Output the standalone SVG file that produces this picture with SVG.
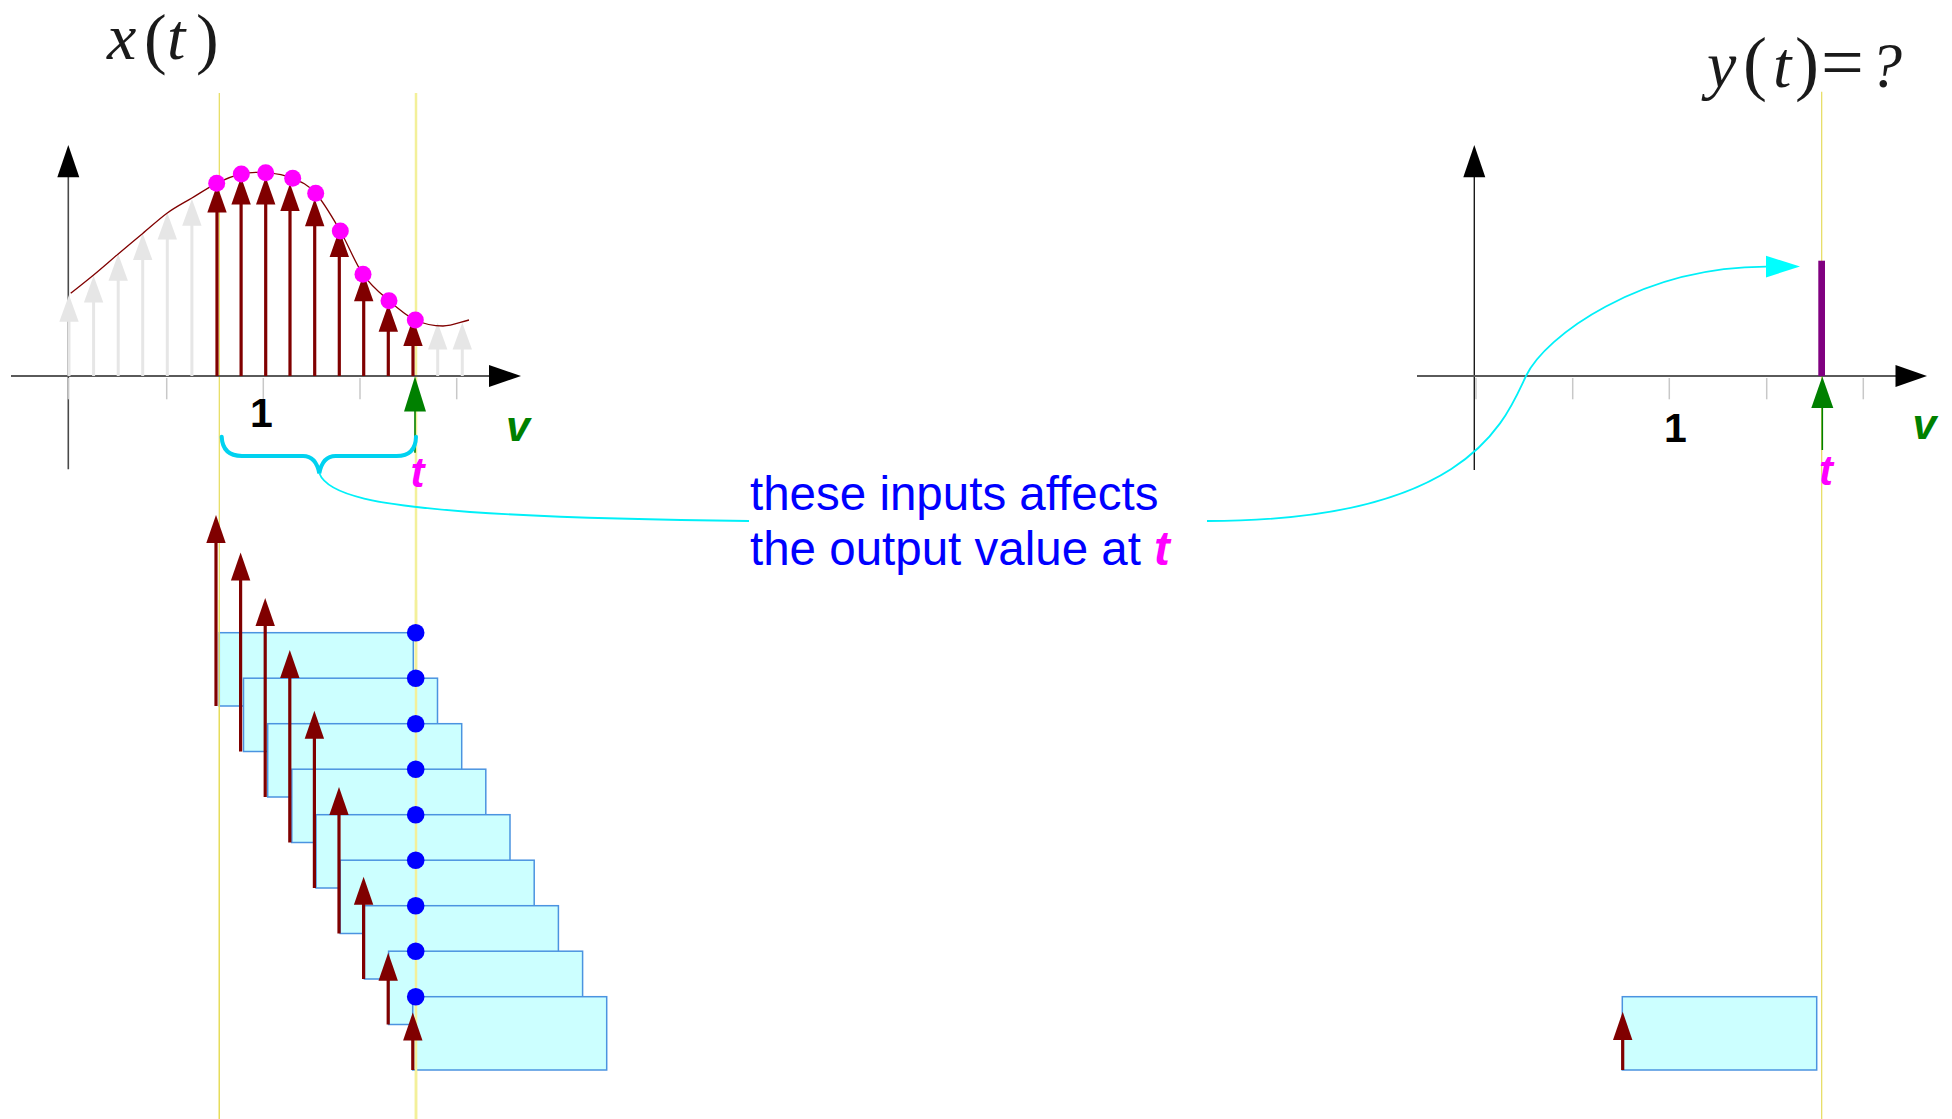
<svg xmlns="http://www.w3.org/2000/svg" width="1952" height="1119" viewBox="0 0 1952 1119">
<style>
.axis{stroke:#5a5a5a;stroke-width:2;fill:none}
.yaxis{stroke:#4a4a4a;stroke-width:1.6;fill:none}
.yaxis2{stroke:#1a1a1a;stroke-width:1.4;fill:none}
.tick{stroke:#c8c8c8;stroke-width:1.5}
.ahead{fill:#000}
.gray{stroke:#e6e6e6;stroke-width:3}
.grayh{fill:#e6e6e6}
.red{stroke:#800000;stroke-width:3.2}
.redh{fill:#800000}
.curve{stroke:#800000;stroke-width:1.3;fill:none}
.dot{fill:#ff00ff}
.bdot{fill:#0000ff}
.box{fill:#ccffff;stroke:#4b93e0;stroke-width:1.5}
.guide{stroke:#e6dc5a;stroke-width:1.2}
.guide2{stroke:#f3f09a;stroke-width:2.5}
.green{stroke:#008000;stroke-width:1.6}
.greenh{fill:#008000}
.math{font-family:"Liberation Serif","Times New Roman",serif;fill:#1a1a1a}
.mi{font-style:italic;font-size:66px}
.mp{font-size:72px}
.lbl{font-family:"Liberation Sans",Arial,sans-serif;font-weight:bold}
.one{font-size:41px;fill:#000;text-anchor:middle}
.vl{font-size:43px;font-style:italic;fill:#008000}
.tl{font-size:42px;font-style:italic;fill:#ff00ff}
.note{font-family:"Liberation Sans",Arial,sans-serif;font-size:47.5px;fill:#0000ff}
.brace{stroke:#00d2f0;stroke-width:4;fill:none;stroke-linecap:round}
.link{stroke:#00f0f8;stroke-width:1.8;fill:none}
.linkh{fill:#00ffff}
</style>

<g id="guides">
<line class="guide" x1="219.3" y1="93" x2="219.3" y2="1119"/>
<line class="guide2" x1="416" y1="93" x2="416" y2="1119"/>
<line class="guide" x1="1821.7" y1="91.7" x2="1821.7" y2="1119"/>
</g>

<g id="title-x">
<text class="math mi" x="107" y="59">x</text>
<text class="math" font-size="68" x="144" y="61">(</text>
<text class="math mi" x="167" y="59">t</text>
<text class="math" font-size="68" x="196" y="61">)</text>
</g>

<g id="title-y">
<text class="math mi" x="1707" y="86.7">y</text>
<text class="math mp" x="1743" y="87.3">(</text>
<text class="math mi" x="1773" y="86.7">t</text>
<text class="math mp" x="1795" y="87.3">)</text>
<text class="math" font-size="76" x="1821" y="87.5">=</text>
<text class="math" font-size="64" font-style="italic" x="1870" y="86.7">?</text>
</g>

<g id="input-plot">
<line class="yaxis" x1="68.3" y1="469.3" x2="68.3" y2="176"/>
<polygon class="ahead" points="68.3,145 57.3,177.3 79.3,177.3"/>
<line class="axis" x1="11" y1="376" x2="490" y2="376"/>
<polygon class="ahead" points="521,376 489,365 489,387"/>
<g class="tick">
<line x1="68.3" y1="378" x2="68.3" y2="399.3"/>
<line x1="166.7" y1="378" x2="166.7" y2="399.3"/>
<line x1="263.3" y1="378" x2="263.3" y2="399.3"/>
<line x1="360" y1="378" x2="360" y2="399.3"/>
<line x1="456.7" y1="378" x2="456.7" y2="399.3"/>
</g>
<g id="gray-samples">
<line class="gray" x1="69" y1="376" x2="69" y2="320"/><polygon class="grayh" points="69,295 59.3,321.7 78.7,321.7"/>
<line class="gray" x1="93.6" y1="376" x2="93.6" y2="301"/><polygon class="grayh" points="93.6,275.7 83.9,302.4 103.3,302.4"/>
<line class="gray" x1="118.2" y1="376" x2="118.2" y2="279"/><polygon class="grayh" points="118.2,254 108.5,280.7 127.9,280.7"/>
<line class="gray" x1="142.7" y1="376" x2="142.7" y2="258"/><polygon class="grayh" points="142.7,233.3 133,260 152.4,260"/>
<line class="gray" x1="167.3" y1="376" x2="167.3" y2="238"/><polygon class="grayh" points="167.3,212.7 157.6,239.4 177,239.4"/>
<line class="gray" x1="191.9" y1="376" x2="191.9" y2="224"/><polygon class="grayh" points="191.9,199 182.2,225.7 201.6,225.7"/>
<line class="gray" x1="437.7" y1="376" x2="437.7" y2="348"/><polygon class="grayh" points="437.7,322.7 428,349.4 447.4,349.4"/>
<line class="gray" x1="462.3" y1="376" x2="462.3" y2="348"/><polygon class="grayh" points="462.3,322.7 452.6,349.4 472,349.4"/>
</g>
<g id="red-samples">
<line class="red" x1="217" y1="376" x2="217" y2="211"/><polygon class="redh" points="217,185 207.3,212.5 226.7,212.5"/>
<line class="red" x1="241.1" y1="376" x2="241.1" y2="203"/><polygon class="redh" points="241.1,177 231.4,204.5 250.8,204.5"/>
<line class="red" x1="265.7" y1="376" x2="265.7" y2="203"/><polygon class="redh" points="265.7,177 256,204.5 275.4,204.5"/>
<line class="red" x1="290" y1="376" x2="290" y2="209"/><polygon class="redh" points="290,183.5 280.3,211 299.7,211"/>
<line class="red" x1="314.7" y1="376" x2="314.7" y2="224"/><polygon class="redh" points="314.7,198.7 305,226.2 324.4,226.2"/>
<line class="red" x1="339.3" y1="376" x2="339.3" y2="255"/><polygon class="redh" points="339.3,229.6 329.6,257.1 349,257.1"/>
<line class="red" x1="363.7" y1="376" x2="363.7" y2="299"/><polygon class="redh" points="363.7,273.7 354,301.2 373.4,301.2"/>
<line class="red" x1="388.3" y1="376" x2="388.3" y2="330"/><polygon class="redh" points="388.3,304.3 378.6,331.8 398,331.8"/>
<line class="red" x1="413" y1="376" x2="413" y2="344"/><polygon class="redh" points="413,318.4 403.3,345.9 422.7,345.9"/>
</g>
<path class="curve" d="M70.7,293.3 C78.33,287.2 85.68,281.55 93.6,275 C101.52,268.45 110.02,260.92 118.2,254 C126.38,247.08 134.52,240.33 142.7,233.5 C150.88,226.67 159.1,219 167.3,213 C175.5,207 183.67,202.95 191.9,198 C200.13,193.05 208.47,187.3 216.7,183.3 C224.93,179.3 233.13,175.77 241.3,174 C249.47,172.23 257.13,171.98 265.7,172.7 C274.27,173.42 284.37,174.87 292.7,178.3 C301.03,181.73 307.77,184.52 315.7,193.3 C323.63,202.08 332.42,217.5 340.3,231 C348.18,244.5 354.88,262.68 363,274.3 C371.12,285.92 380.28,293.08 389,300.7 C397.72,308.32 406.3,315.78 415.3,320 C424.3,324.22 434.05,326 443,326 C451.95,326 460.33,322 469,320"/>
<g id="sample-dots" class="dot">
<circle cx="216.7" cy="183.3" r="8.5"/>
<circle cx="241.3" cy="174" r="8.5"/>
<circle cx="265.7" cy="172.7" r="8.5"/>
<circle cx="292.7" cy="178.3" r="8.5"/>
<circle cx="315.7" cy="193.3" r="8.5"/>
<circle cx="340.3" cy="231" r="8.5"/>
<circle cx="363" cy="274.3" r="8.5"/>
<circle cx="389" cy="300.7" r="8.5"/>
<circle cx="415.3" cy="320" r="8.5"/>
</g>
<line class="green" x1="415" y1="409" x2="415" y2="452.7"/>
<polygon class="greenh" points="415,376.5 404,411.5 426,411.5"/>
<text class="lbl one" x="261.5" y="426.7">1</text>
<text class="lbl vl" x="506" y="440.7">v</text>
<text class="lbl tl" x="410.5" y="487.3">t</text>
</g>

<g id="output-plot">
<line class="yaxis2" x1="1474.3" y1="470" x2="1474.3" y2="176"/>
<polygon class="ahead" points="1474.3,145 1463.3,177.3 1485.3,177.3"/>
<line class="axis" x1="1417" y1="376" x2="1897" y2="376"/>
<polygon class="ahead" points="1927,376 1895.5,365 1895.5,387"/>
<g class="tick">
<line x1="1476" y1="378" x2="1476" y2="399.3"/>
<line x1="1572.7" y1="378" x2="1572.7" y2="399.3"/>
<line x1="1669.3" y1="378" x2="1669.3" y2="399.3"/>
<line x1="1766.7" y1="378" x2="1766.7" y2="399.3"/>
<line x1="1863.3" y1="378" x2="1863.3" y2="399.3"/>
</g>
<rect id="output-value" x="1818.3" y="260.7" width="6.7" height="115.3" fill="#800080"/>
<line class="green" x1="1822.3" y1="406" x2="1822.3" y2="450"/>
<polygon class="greenh" points="1822.3,376.5 1811.3,408 1833.3,408"/>
<text class="lbl one" x="1675.5" y="441.7">1</text>
<text class="lbl vl" x="1912.5" y="439.3">v</text>
<text class="lbl tl" x="1819" y="485">t</text>
</g>

<g id="shifted-responses">
<rect class="box" x="219.3" y="632.7" width="194" height="73.3"/>
<rect class="box" x="243.5" y="678.2" width="194" height="73.3"/>
<rect class="box" x="267.7" y="723.7" width="194" height="73.3"/>
<rect class="box" x="291.8" y="769.2" width="194" height="73.3"/>
<rect class="box" x="316" y="814.7" width="194" height="73.3"/>
<rect class="box" x="340.2" y="860.2" width="194" height="73.3"/>
<rect class="box" x="364.4" y="905.7" width="194" height="73.3"/>
<rect class="box" x="388.6" y="951.2" width="194" height="73.3"/>
<rect class="box" x="412.7" y="996.7" width="194" height="73.3"/>
</g>
<g id="guide-overlay">
<line class="guide" x1="219.3" y1="600" x2="219.3" y2="1119"/>
<line class="guide2" x1="416" y1="600" x2="416" y2="1119"/>
</g>
<g id="shifted-impulses">
<line class="red" x1="216" y1="706" x2="216" y2="541"/><polygon class="redh" points="216,515 206.3,543 225.7,543"/>
<line class="red" x1="240.6" y1="751.5" x2="240.6" y2="578.5"/><polygon class="redh" points="240.6,552.5 230.9,580.5 250.3,580.5"/>
<line class="red" x1="265.2" y1="797" x2="265.2" y2="624"/><polygon class="redh" points="265.2,598 255.5,626 274.9,626"/>
<line class="red" x1="289.8" y1="842.5" x2="289.8" y2="676"/><polygon class="redh" points="289.8,650 280.1,678 299.5,678"/>
<line class="red" x1="314.4" y1="888" x2="314.4" y2="736.7"/><polygon class="redh" points="314.4,710.7 304.7,738.7 324.1,738.7"/>
<line class="red" x1="339" y1="933.5" x2="339" y2="813.1"/><polygon class="redh" points="339,787.1 329.3,815.1 348.7,815.1"/>
<line class="red" x1="363.6" y1="979" x2="363.6" y2="902.7"/><polygon class="redh" points="363.6,876.7 353.9,904.7 373.3,904.7"/>
<line class="red" x1="388.2" y1="1024.5" x2="388.2" y2="978.8"/><polygon class="redh" points="388.2,952.8 378.5,980.8 397.9,980.8"/>
<line class="red" x1="412.8" y1="1070" x2="412.8" y2="1038.4"/><polygon class="redh" points="412.8,1012.4 403.1,1040.4 422.5,1040.4"/>
</g>
<g id="output-samples" class="bdot">
<circle cx="415.7" cy="632.7" r="8.8"/>
<circle cx="415.7" cy="678.2" r="8.8"/>
<circle cx="415.7" cy="723.7" r="8.8"/>
<circle cx="415.7" cy="769.2" r="8.8"/>
<circle cx="415.7" cy="814.7" r="8.8"/>
<circle cx="415.7" cy="860.2" r="8.8"/>
<circle cx="415.7" cy="905.7" r="8.8"/>
<circle cx="415.7" cy="951.2" r="8.8"/>
<circle cx="415.7" cy="996.7" r="8.8"/>
</g>

<g id="impulse-response">
<rect class="box" x="1622.3" y="996.7" width="194.4" height="73.3"/>
<line class="red" x1="1622.7" y1="1070" x2="1622.7" y2="1038"/>
<polygon class="redh" points="1622.7,1011.7 1613,1040 1632.4,1040"/>
</g>

<g id="connectors">
<path class="brace" d="M221.7,436.7 Q222.5,456 242,456 L303,456 Q316,456 319.3,473.3 Q322.6,456 335.6,456 L396.5,456 Q415.5,456 416,436.7"/>
<path class="link" d="M319.3,473.3 C328,496 380,505 470,512 C560,518 650,520 749,521"/>
<path class="link" d="M1207,521 C1470,521 1505,420 1526,376 C1545,336 1640,267 1766,266.7"/>
<polygon class="linkh" points="1800,266.5 1766,255.7 1766,277.5"/>
</g>

<g id="note">
<text class="note" x="750" y="510">these inputs affects</text>
<text class="note" x="750" y="565">the output value at <tspan font-weight="bold" font-style="italic" fill="#ff00ff">t</tspan></text>
</g>
</svg>
